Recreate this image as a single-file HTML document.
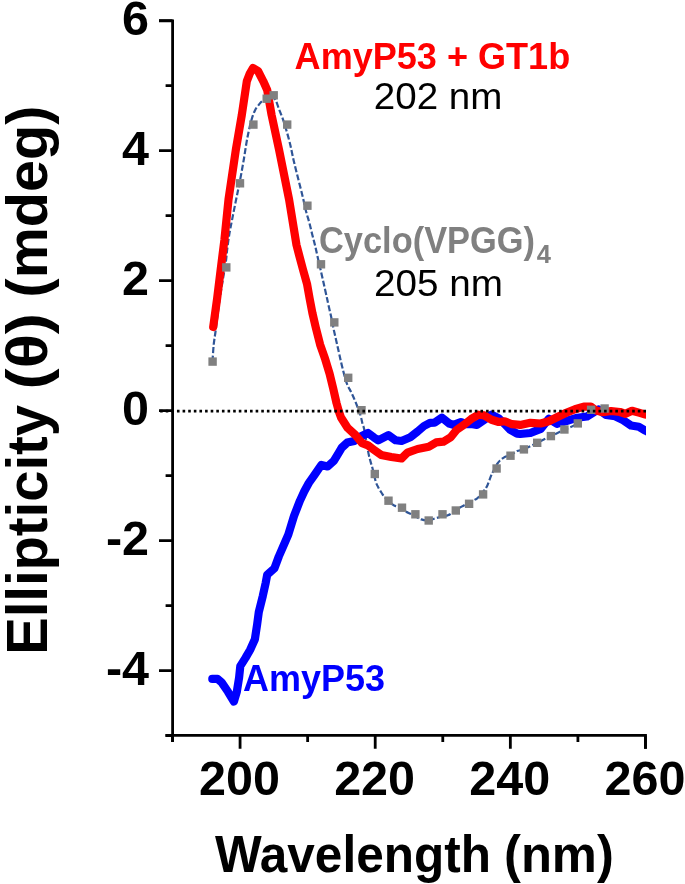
<!DOCTYPE html>
<html><head><meta charset="utf-8"><style>
html,body{margin:0;padding:0;background:#fff;}
body{width:685px;height:884px;overflow:hidden;}
svg{display:block;will-change:transform;}
text{font-family:"Liberation Sans",sans-serif;}
</style></head><body>
<svg width="685" height="884" viewBox="0 0 685 884">
<rect width="685" height="884" fill="#fff"/>
<defs><clipPath id="pa"><rect x="174" y="0" width="472" height="735"/></clipPath></defs>
<g clip-path="url(#pa)" fill="none" stroke-linejoin="round" stroke-linecap="round">
<path d="M212.50,361.50 C212.70,358.70 213.18,349.78 213.70,344.70 C214.22,339.62 214.95,335.95 215.60,331.00 C216.25,326.05 216.87,320.67 217.60,315.00 C218.33,309.33 219.13,302.83 220.00,297.00 C220.87,291.17 221.82,285.93 222.80,280.00 C223.78,274.07 225.18,266.38 225.90,261.40 C226.62,256.42 226.53,254.62 227.10,250.10 C227.67,245.58 228.47,239.38 229.30,234.30 C230.13,229.22 231.07,224.88 232.10,219.60 C233.13,214.32 234.45,207.78 235.50,202.60 C236.55,197.42 237.45,193.25 238.40,188.50 C239.35,183.75 240.25,179.23 241.20,174.10 C242.15,168.97 243.22,162.95 244.10,157.70 C244.98,152.45 245.72,147.07 246.50,142.60 C247.28,138.13 247.93,134.80 248.80,130.90 C249.67,127.00 250.63,122.70 251.70,119.20 C252.77,115.70 253.83,112.53 255.20,109.90 C256.57,107.27 258.52,105.08 259.90,103.40 C261.28,101.72 262.23,100.87 263.50,99.80 C264.77,98.73 266.17,97.60 267.50,97.00 C268.83,96.40 270.17,95.72 271.50,96.20 C272.83,96.68 274.30,97.88 275.50,99.90 C276.70,101.92 277.50,105.17 278.70,108.30 C279.90,111.43 281.45,115.13 282.70,118.70 C283.95,122.27 284.95,125.42 286.20,129.70 C287.45,133.98 288.97,139.32 290.20,144.40 C291.43,149.48 292.38,154.92 293.60,160.20 C294.82,165.48 296.08,170.43 297.50,176.10 C298.92,181.77 300.70,188.43 302.10,194.20 C303.50,199.97 304.70,205.97 305.90,210.70 C307.10,215.43 308.27,218.73 309.30,222.60 C310.33,226.47 311.15,230.13 312.10,233.90 C313.05,237.67 314.05,241.23 315.00,245.20 C315.95,249.17 316.77,253.17 317.80,257.70 C318.83,262.23 320.17,267.88 321.20,272.40 C322.23,276.92 323.07,280.65 324.00,284.80 C324.93,288.95 326.07,293.98 326.80,297.30 C327.53,300.62 327.67,301.40 328.40,304.70 C329.13,308.00 330.35,313.13 331.20,317.10 C332.05,321.07 332.65,324.53 333.50,328.50 C334.35,332.47 335.37,336.77 336.30,340.90 C337.23,345.03 338.07,348.77 339.10,353.30 C340.13,357.83 341.22,363.08 342.50,368.10 C343.78,373.12 345.33,379.35 346.80,383.40 C348.27,387.45 349.80,389.20 351.30,392.40 C352.80,395.60 354.28,398.82 355.80,402.60 C357.32,406.38 359.27,411.52 360.40,415.10 C361.53,418.68 361.95,421.65 362.60,424.10 C363.25,426.55 363.35,425.08 364.30,429.80 C365.25,434.52 367.27,447.13 368.30,452.40 C369.33,457.67 369.75,458.57 370.50,461.40 C371.25,464.23 371.92,465.98 372.80,469.40 C373.68,472.82 374.90,478.93 375.80,481.90 C376.70,484.87 377.22,485.35 378.20,487.20 C379.18,489.05 380.53,491.25 381.70,493.00 C382.87,494.75 383.35,495.75 385.20,497.70 C387.05,499.65 390.67,503.15 392.80,504.70 C394.93,506.25 395.77,505.83 398.00,507.00 C400.23,508.17 404.05,510.53 406.20,511.70 C408.35,512.87 408.37,512.72 410.90,514.00 C413.43,515.28 418.47,518.35 421.40,519.40 C424.33,520.45 426.37,520.42 428.50,520.30 C430.63,520.18 432.12,519.28 434.20,518.70 C436.28,518.12 438.77,517.35 441.00,516.80 C443.23,516.25 445.92,515.93 447.60,515.40 C449.28,514.87 448.77,515.07 451.10,513.60 C453.43,512.13 457.62,508.93 461.60,506.60 C465.58,504.27 472.18,501.17 475.00,499.60 C477.82,498.03 476.65,499.15 478.50,497.20 C480.35,495.25 484.33,490.62 486.10,487.90 C487.87,485.18 488.22,483.05 489.10,480.90 C489.98,478.75 490.05,477.83 491.40,475.00 C492.75,472.17 495.65,466.42 497.20,463.90 C498.75,461.38 499.43,461.07 500.70,459.90 C501.97,458.73 503.23,457.67 504.80,456.90 C506.37,456.13 508.05,456.27 510.10,455.30 C512.15,454.33 514.80,452.12 517.10,451.10 C519.40,450.08 520.55,450.58 523.90,449.20 C527.25,447.82 532.70,444.98 537.20,442.80 C541.70,440.62 546.38,438.27 550.90,436.10 C555.42,433.93 559.82,431.95 564.30,429.80 C568.78,427.65 573.32,426.48 577.80,423.20 C582.28,419.92 586.70,412.55 591.20,410.10 C595.70,407.65 602.53,408.77 604.80,408.50" stroke="#2f5597" stroke-width="2.2" stroke-dasharray="6 2.4" stroke-linecap="butt"/>
<polyline points="212.3,678.9 217.5,678.9 221.6,682.4 228.0,691.8 233.9,701.5 236.8,691.8 239.1,677.7 240.3,666.1 245.5,657.9 250.2,649.7 254.9,639.2 257.2,624.0 258.8,612.0 262.8,595.9 265.7,582.8 267.2,574.7 274.5,568.2 278.8,556.5 283.2,546.3 288.3,534.6 294.0,516.0 300.0,500.6 304.2,491.5 308.8,483.0 314.2,475.3 321.3,465.0 327.6,466.5 334.0,460.7 338.4,453.4 341.8,447.6 347.3,442.6 354.3,441.0 359.2,437.3 368.0,433.0 373.8,437.3 378.2,440.3 388.4,435.1 395.7,440.3 401.5,441.0 410.3,437.3 417.6,431.5 424.0,426.0 430.0,422.8 434.6,422.7 441.9,417.6 449.2,423.5 453.6,424.9 460.9,422.0 466.7,424.2 472.6,424.2 476.9,424.9 484.2,419.8 491.5,414.7 498.8,418.4 504.7,424.2 510.5,430.0 517.1,433.7 520.2,434.0 530.4,433.0 540.7,428.9 548.8,418.7 557.0,423.8 567.2,420.8 577.4,417.7 587.0,416.5 594.2,412.0 598.5,409.5 606.0,415.0 615.2,416.3 623.0,420.2 631.0,425.5 638.8,426.8 645.4,430.7 650.0,433.0" stroke="#0000ff" stroke-width="8.2"/>
<polyline points="213.2,327.0 217.1,298.8 220.7,269.4 224.4,240.0 228.5,199.6 235.8,150.0 241.8,115.0 246.8,81.3 249.8,73.5 253.0,68.0 258.0,71.0 263.3,81.3 267.2,90.0 271.6,115.0 279.1,150.0 289.1,199.6 296.5,245.0 299.0,254.6 302.9,269.2 307.0,283.8 309.6,298.4 312.4,313.0 315.8,327.6 320.1,344.6 325.2,359.2 329.6,373.8 333.2,388.4 336.5,403.0 339.0,411.8 341.0,417.5 347.5,427.8 355.5,435.1 362.1,443.2 368.0,445.4 373.8,449.7 381.1,454.9 391.3,457.0 401.5,458.5 407.4,452.7 417.6,449.0 428.8,446.8 436.1,442.4 443.4,441.7 450.7,437.3 456.5,430.0 463.8,424.9 471.1,419.1 478.4,414.7 484.2,415.4 491.5,419.8 498.8,422.0 504.7,421.3 512.0,424.2 520.2,424.9 530.4,422.8 540.7,423.5 548.8,421.3 557.5,417.0 566.3,412.7 575.0,409.2 583.8,406.6 590.8,406.6 596.0,410.5 603.0,412.2 611.0,411.0 620.0,412.0 625.5,413.8 632.0,410.8 638.8,412.6 645.4,414.5 650.0,415.5" stroke="#ff0000" stroke-width="8.2"/>
</g>
<g fill="#808080"><rect x="208.40" y="357.40" width="8.4" height="8.4"/><rect x="222.10" y="263.20" width="8.4" height="8.4"/><rect x="235.80" y="179.10" width="8.4" height="8.4"/><rect x="249.20" y="120.40" width="8.4" height="8.4"/><rect x="262.50" y="94.50" width="8.4" height="8.4"/><rect x="269.50" y="91.10" width="8.4" height="8.4"/><rect x="283.00" y="120.40" width="8.4" height="8.4"/><rect x="303.20" y="201.50" width="8.4" height="8.4"/><rect x="316.80" y="260.10" width="8.4" height="8.4"/><rect x="330.10" y="318.20" width="8.4" height="8.4"/><rect x="344.00" y="373.60" width="8.4" height="8.4"/><rect x="357.30" y="406.00" width="8.4" height="8.4"/><rect x="370.60" y="469.80" width="8.4" height="8.4"/><rect x="384.30" y="496.50" width="8.4" height="8.4"/><rect x="397.80" y="503.50" width="8.4" height="8.4"/><rect x="411.20" y="510.10" width="8.4" height="8.4"/><rect x="424.50" y="516.30" width="8.4" height="8.4"/><rect x="438.30" y="510.10" width="8.4" height="8.4"/><rect x="451.60" y="506.30" width="8.4" height="8.4"/><rect x="464.90" y="499.60" width="8.4" height="8.4"/><rect x="478.90" y="490.20" width="8.4" height="8.4"/><rect x="492.40" y="464.30" width="8.4" height="8.4"/><rect x="506.30" y="451.50" width="8.4" height="8.4"/><rect x="519.70" y="445.20" width="8.4" height="8.4"/><rect x="533.00" y="438.60" width="8.4" height="8.4"/><rect x="546.70" y="431.90" width="8.4" height="8.4"/><rect x="560.20" y="425.30" width="8.4" height="8.4"/><rect x="573.60" y="419.20" width="8.4" height="8.4"/><rect x="586.90" y="405.60" width="8.4" height="8.4"/><rect x="600.40" y="404.30" width="8.4" height="8.4"/></g>
<line x1="160.1" y1="411.2" x2="646" y2="411.2" stroke="#000" stroke-width="2.7" stroke-dasharray="2.6 3.02"/>
<g fill="none" stroke="#000" stroke-width="2.8" stroke-linecap="butt" stroke-linejoin="miter">
<path d="M159,20.8H172.6V742"/>
<path d="M165.4,735.4H645.49V748.8"/>
<path d="M165.6,735.70H172.6M159.0,670.70H172.6M165.6,605.70H172.6M159.0,540.70H172.6M165.6,475.70H172.6M159.0,410.70H172.6M165.6,345.70H172.6M159.0,280.70H172.6M165.6,215.70H172.6M159.0,150.70H172.6M165.6,85.70H172.6M159.0,20.70H172.6M172.50,735.4V742.0M240.07,735.4V748.8M307.64,735.4V742.0M375.21,735.4V748.8M442.78,735.4V742.0M510.35,735.4V748.8M577.92,735.4V742.0M645.49,735.4V748.8"/>
</g>
<g font-weight="bold" font-size="48.5" fill="#000"><text x="149" y="34.6" text-anchor="end">6</text><text x="149" y="164.6" text-anchor="end">4</text><text x="149" y="294.6" text-anchor="end">2</text><text x="149" y="424.6" text-anchor="end">0</text><text x="149" y="554.6" text-anchor="end">-2</text><text x="149" y="684.6" text-anchor="end">-4</text><text x="239.5" y="795.3" text-anchor="middle">200</text><text x="374.6" y="795.3" text-anchor="middle">220</text><text x="509.7" y="795.3" text-anchor="middle">240</text><text x="644.9" y="795.3" text-anchor="middle">260</text></g>
<g font-weight="bold" font-size="51.5"><text x="214.9" y="872.4" textLength="276" lengthAdjust="spacingAndGlyphs">Wavelength</text><text x="504.0" y="872.4" textLength="109.8" lengthAdjust="spacingAndGlyphs">(nm)</text></g>
<g font-weight="bold" font-size="57.4"><text transform="translate(47.1,654.85) rotate(-90)" textLength="249.97" lengthAdjust="spacingAndGlyphs">Ellipticity</text><text transform="translate(47.1,389.4) rotate(-90)" textLength="76.3" lengthAdjust="spacingAndGlyphs">(&#952;)</text><text transform="translate(47.1,297.5) rotate(-90)" textLength="191.9" lengthAdjust="spacingAndGlyphs">(mdeg)</text></g>
<text x="294.6" y="69" font-weight="bold" font-size="37.4" fill="#ff0000" textLength="275.6" lengthAdjust="spacingAndGlyphs">AmyP53 + GT1b</text>
<text x="373.8" y="109.4" font-size="36.7" fill="#000" textLength="128.6" lengthAdjust="spacingAndGlyphs">202 nm</text>
<text x="319" y="252.7" font-weight="bold" font-size="36.7" fill="#808080" textLength="216" lengthAdjust="spacingAndGlyphs">Cyclo(VPGG)</text>
<text x="536.8" y="263.2" font-weight="bold" font-size="25.5" fill="#808080">4</text>
<text x="374" y="295.6" font-size="36.7" fill="#000" textLength="129" lengthAdjust="spacingAndGlyphs">205 nm</text>
<text x="243" y="691.1" font-weight="bold" font-size="37.1" fill="#0000ff" textLength="142" lengthAdjust="spacingAndGlyphs">AmyP53</text>
</svg>
</body></html>
